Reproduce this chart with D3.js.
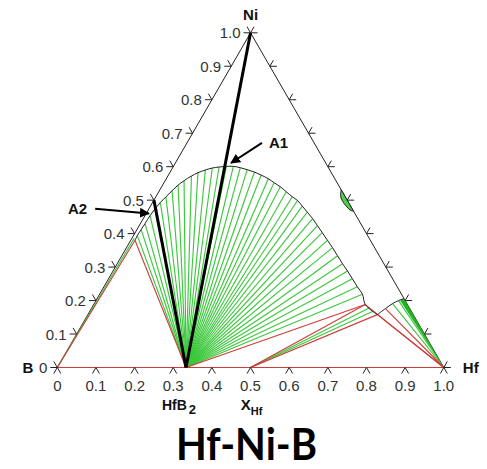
<!DOCTYPE html>
<html>
<head>
<meta charset="utf-8">
<script src="https://cdn.jsdelivr.net/npm/d3@7"></script>
<style>
  html, body { margin: 0; padding: 0; background: #fff; }
  svg { display: block; }
</style>
</head>
<body>
<div id="chart"></div>
<script>
// every composition is [xHf, xNi]; xB = 1 - xHf - xNi
const tickValues = [0, 0.1, 0.2, 0.3, 0.4, 0.5, 0.6, 0.7, 0.8, 0.9, 1.0];
const tickLabels = ['0', '0.1', '0.2', '0.3', '0.4', '0.5', '0.6', '0.7', '0.8', '0.9', '1.0'];

const hfb2 = [0.333, 0];
const hfb = [0.5, 0];
const borideTop = [0.011, 0.380];

// liquid dome (miscibility gap boundary), each vertex is also a tie-line end
const domeCurve = [
  [0.011, 0.380],
  [0.010, 0.394], [0.011, 0.412], [0.012, 0.430], [0.013, 0.454], [0.016, 0.475],
  [0.020, 0.493], [0.026, 0.510], [0.033, 0.528], [0.040, 0.545], [0.049, 0.558],
  [0.061, 0.572], [0.073, 0.582], [0.088, 0.590], [0.103, 0.596], [0.119, 0.599],
  [0.137, 0.601], [0.155, 0.601], [0.175, 0.597], [0.196, 0.591], [0.218, 0.584],
  [0.240, 0.575], [0.264, 0.564], [0.285, 0.552], [0.307, 0.540], [0.330, 0.525],
  [0.353, 0.510], [0.372, 0.499], [0.393, 0.482], [0.415, 0.464], [0.438, 0.445],
  [0.461, 0.424], [0.484, 0.403], [0.509, 0.380], [0.533, 0.358], [0.558, 0.334],
  [0.583, 0.310], [0.607, 0.288], [0.631, 0.265], [0.656, 0.241], [0.680, 0.219],
  [0.703, 0.188],
  [0.749, 0.158]
];
const hfb2Ties = domeCurve.slice(1, 41);

const bumpCurve = [[0.749, 0.158], [0.761, 0.176], [0.772, 0.191], [0.783, 0.200], [0.794, 0.206]];

const redTies = [
  [[0, 0], borideTop],
  [borideTop, hfb2],
  [[0, 0], [1, 0]],
  [hfb2, [0.703, 0.188]],
  [hfb, [0.703, 0.188]],
  [hfb, [0.749, 0.158]],
  [[0.703, 0.188], [1, 0]],
  [[0.749, 0.158], [1, 0]],
  [[0.761, 0.176], [1, 0]]
];
const greenTies = [
  [[0, 0], [0.006, 0.386]],
  [hfb, [0.718, 0.178]],
  [hfb, [0.733, 0.168]],
  [[0.772, 0.191], [1, 0]],
  [[0.783, 0.200], [1, 0]],
  [[0.86, 0], [1, 0]]
];
const greenWedge = [[0.7945, 0.2055], [1, 0], [0.787, 0.200]];
const lensCurve = [[0.469, 0.531], [0.477, 0.512], [0.490, 0.4965], [0.506, 0.4825], [0.5225, 0.4705], [0.5335, 0.4665]];

const thickLines = [[hfb2, [0, 1]], [hfb2, [0, 0.5]]];

const arrows = [
  { label: 'A1', from: [0.194, 0.671], to: [0.144, 0.611], side: 'right' },
  { label: 'A2', from: [-0.139, 0.474], to: [0.007, 0.460], side: 'left' }
];

const W = 487, H = 469;
const svg = d3.select('#chart').append('svg')
  .attr('width', W)
  .attr('height', H)
  .style('font-family', '"Liberation Sans", Arial, sans-serif');

const baseScale = d3.scaleLinear().domain([0, 1]).range([57.3, 443.8]);
const niScale = d3.scaleLinear().domain([0, 1]).range([367.5, 32.8]);
const px = d => baseScale(d[0] + d[1] / 2);
const py = d => niScale(d[1]);

const straight = d3.line().x(px).y(py);
const smooth = d3.line().x(px).y(py).curve(d3.curveCatmullRom);

const green = '#3cc83c';
const red = '#cf3b3b';

// triangle frame
svg.append('path')
  .datum([[0, 0], [1, 0], [0, 1]])
  .attr('d', d => straight(d) + 'Z')
  .attr('fill', 'none')
  .attr('stroke', '#222')
  .attr('stroke-width', 1);

// green tie lines
svg.append('g').selectAll('line')
  .data(hfb2Ties.map(p => [hfb2, p]).concat(greenTies))
  .join('line')
  .attr('x1', d => px(d[0])).attr('y1', d => py(d[0]))
  .attr('x2', d => px(d[1])).attr('y2', d => py(d[1]))
  .attr('stroke', green)
  .attr('stroke-width', 1.15);

svg.append('path')
  .datum(greenWedge)
  .attr('d', d => straight(d) + 'Z')
  .attr('fill', '#1fb51f');

// red tie triangles
svg.append('g').selectAll('line')
  .data(redTies)
  .join('line')
  .attr('x1', d => px(d[0])).attr('y1', d => py(d[0]))
  .attr('x2', d => px(d[1])).attr('y2', d => py(d[1]))
  .attr('stroke', red)
  .attr('stroke-width', 1.1);

// phase boundaries
svg.append('path')
  .datum(domeCurve)
  .attr('d', smooth)
  .attr('fill', 'none')
  .attr('stroke', '#222')
  .attr('stroke-width', 1);

svg.append('path')
  .datum(bumpCurve)
  .attr('d', smooth)
  .attr('fill', 'none')
  .attr('stroke', '#222')
  .attr('stroke-width', 1);

svg.append('path')
  .datum(lensCurve)
  .attr('d', d => smooth(d) + 'Z')
  .attr('fill', '#4fcf4f')
  .attr('stroke', '#222')
  .attr('stroke-width', 1);

// thick black sections
svg.append('g').selectAll('line')
  .data(thickLines)
  .join('line')
  .attr('x1', d => px(d[0])).attr('y1', d => py(d[0]))
  .attr('x2', d => px(d[1])).attr('y2', d => py(d[1]))
  .attr('stroke', '#000')
  .attr('stroke-width', 3);

// ticks: two short arms at each tick, rotated per side
const L = 7, c60 = 0.5, s60 = Math.sqrt(3) / 2;
const sides = [
  { pos: v => [v, 0], arms: [[-c60 * L, s60 * L], [c60 * L, s60 * L]] },
  { pos: v => [0, v], arms: [[-L, 0], [-c60 * L, -s60 * L]] },
  { pos: v => [1 - v, v], arms: [[L, 0], [c60 * L, -s60 * L]] }
];
const tickG = svg.append('g').attr('stroke', '#222').attr('stroke-width', 1);
sides.forEach(side => {
  tickValues.forEach(v => {
    const p = side.pos(v);
    side.arms.forEach(a => {
      tickG.append('line')
        .attr('x1', px(p)).attr('y1', py(p))
        .attr('x2', px(p) + a[0]).attr('y2', py(p) + a[1]);
    });
  });
});

// tick labels
svg.append('g').selectAll('text')
  .data(tickValues)
  .join('text')
  .attr('x', v => px([v, 0]))
  .attr('y', v => py([v, 0]) + 23)
  .attr('text-anchor', 'middle')
  .style('font-size', '15px')
  .style('fill', '#333')
  .text((v, i) => tickLabels[i]);

svg.append('g').selectAll('text')
  .data(tickValues)
  .join('text')
  .attr('x', v => px([0, v]) - 10)
  .attr('y', v => py([0, v]) + 5.5)
  .attr('text-anchor', 'end')
  .style('font-size', '15px')
  .style('fill', '#333')
  .text((v, i) => tickLabels[i]);

// corner labels
const bold = sel => sel.style('font-weight', 'bold').style('font-size', '15px').style('fill', '#111');
svg.append('text').attr('x', px([0, 1])).attr('y', py([0, 1]) - 13)
  .attr('text-anchor', 'middle').call(bold).text('Ni');
svg.append('text').attr('x', px([1, 0]) + 19).attr('y', py([1, 0]) + 5.5)
  .attr('text-anchor', 'start').call(bold).text('Hf');
svg.append('text').attr('x', px([0, 0]) - 24).attr('y', py([0, 0]) + 5.5)
  .attr('text-anchor', 'end').call(bold).text('B');

// compound and axis name under the base
const hfb2Label = svg.append('text')
  .attr('x', px(hfb2) - 7).attr('y', py(hfb2) + 42)
  .attr('text-anchor', 'middle')
  .style('font-weight', 'bold').style('font-size', '14px').style('fill', '#111');
hfb2Label.append('tspan').text('HfB');
hfb2Label.append('tspan').attr('dx', 2).attr('dy', 4).style('font-size', '13px').text('2');

const xLabel = svg.append('text')
  .attr('x', px(hfb) + 1).attr('y', py(hfb) + 42)
  .attr('text-anchor', 'middle')
  .style('font-weight', 'bold').style('font-size', '15px').style('fill', '#111');
xLabel.append('tspan').text('X');
xLabel.append('tspan').attr('dy', 5).style('font-size', '11px').text('Hf');

// arrows
svg.append('defs').append('marker')
  .attr('id', 'head')
  .attr('viewBox', '0 0 10 10')
  .attr('refX', 9).attr('refY', 5)
  .attr('markerWidth', 5).attr('markerHeight', 5)
  .attr('orient', 'auto')
  .append('path')
  .attr('d', 'M0,0L10,5L0,10Z')
  .attr('fill', '#000');

arrows.forEach(a => {
  svg.append('line')
    .attr('x1', px(a.from)).attr('y1', py(a.from))
    .attr('x2', px(a.to)).attr('y2', py(a.to))
    .attr('stroke', '#000')
    .attr('stroke-width', 2)
    .attr('marker-end', 'url(#head)');
  svg.append('text')
    .attr('x', px(a.from) + (a.side === 'right' ? 7 : -8))
    .attr('y', py(a.from) + 5)
    .attr('text-anchor', a.side === 'right' ? 'start' : 'end')
    .call(bold)
    .text(a.label);
});

// title
svg.append('text')
  .attr('x', 246.5)
  .attr('y', 459.5)
  .attr('text-anchor', 'middle')
  .attr('textLength', 141)
  .attr('lengthAdjust', 'spacingAndGlyphs')
  .style('font-family', 'Lato, "Open Sans", sans-serif')
  .style('font-weight', 'bold')
  .style('font-size', '43px')
  .style('fill', '#000')
  .text('Hf-Ni-B');
</script>
</body>
</html>
